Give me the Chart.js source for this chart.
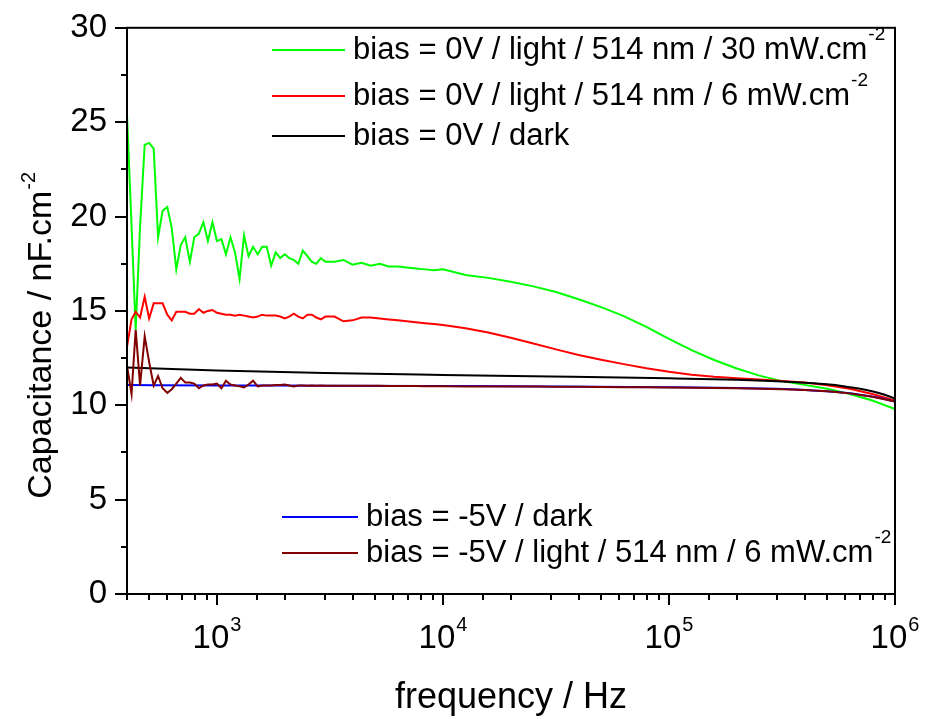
<!DOCTYPE html>
<html>
<head>
<meta charset="utf-8">
<title>Capacitance vs frequency</title>
<script src="https://cdn.jsdelivr.net/npm/chart.js@4.4.1/dist/chart.umd.min.js"></script>
<style>
  body { margin: 0; background: #fff; }
</style>
</head>
<body>
<canvas id="chart" width="925" height="719"></canvas>
<script>
// frequency grid (Hz) of the noisy measurements
const freq = [400, 419, 437, 457, 479, 501, 525, 549, 575, 603,
    631, 661, 692, 724, 759, 794, 832, 871, 912, 955,
    1000, 1047, 1096, 1148, 1202, 1259, 1318, 1380, 1445, 1514,
    1585, 1660, 1738, 1820, 1905, 1995, 2089, 2188, 2291, 2399,
    2512, 2630, 2754, 2884, 3020,
    3311, 3631, 3981, 4365, 4786, 5248, 5754, 6310, 6918, 7586, 8318, 9120, 10000,
    12589, 15849, 19953, 25119, 31623, 39811, 50119, 63096, 79433, 100000,
    125893, 158489, 199526, 251189, 316228, 398107, 501187, 630957, 794328, 1000000]

const light30 = [25.4, 19.5, 14.0, 19.5, 23.8, 23.9, 23.6, 18.9, 20.3, 20.5,
    19.4, 17.2, 18.5, 18.9, 17.6, 18.9, 19.1, 19.7, 18.7, 19.7,
    18.7, 18.8, 18.0, 18.9, 18.1, 16.7, 19.0, 17.9, 18.4, 18.0,
    18.4, 18.4, 17.4, 18.1, 17.8, 18.0, 17.8, 17.7, 17.5, 18.2,
    17.9, 17.6, 17.5, 17.8, 17.6,
    17.6, 17.7, 17.45, 17.55, 17.4, 17.5, 17.35, 17.35, 17.3, 17.25, 17.2, 17.15, 17.2,
    16.9, 16.75, 16.55, 16.3, 16.0, 15.62, 15.2, 14.72, 14.15, 13.52,
    12.92, 12.4, 11.95, 11.57, 11.28, 11.08, 10.88, 10.6, 10.25, 9.8]

const light6 = [13.1, 14.55, 14.95, 14.65, 15.75, 14.6, 15.4, 15.4, 15.4, 14.8,
    14.5, 14.95, 14.95, 14.95, 14.85, 14.85, 15.1, 14.9, 15.0, 15.05,
    14.9, 14.85, 14.8, 14.8, 14.75, 14.8, 14.75, 14.7, 14.65, 14.7,
    14.8, 14.75, 14.75, 14.75, 14.7, 14.6, 14.7, 14.85, 14.7, 14.6,
    14.8, 14.8, 14.65, 14.55, 14.7,
    14.7, 14.45, 14.5, 14.65, 14.65, 14.6, 14.55, 14.5, 14.45, 14.4, 14.35, 14.3, 14.25,
    14.08, 13.86, 13.58, 13.27, 12.96, 12.66, 12.41, 12.18, 11.96, 11.77,
    11.62, 11.51, 11.43, 11.36, 11.29, 11.2, 11.06, 10.88, 10.6, 10.25]

const rev5light6 = [12.1, 10.6, 14.0, 11.05, 13.65, 12.3, 11.05, 11.55, 10.9, 10.65,
    10.85, 11.15, 11.45, 11.2, 11.2, 11.15, 10.9, 11.05, 11.1, 11.1,
    11.15, 10.9, 11.3, 11.1, 11.05, 11.0, 10.95, 11.1, 11.3, 11.0,
    11.05, 11.05, 11.05, 11.08, 11.08, 11.1, 11.05, 11.0, 11.05, 11.05,
    11.04, 11.05, 11.04, 11.05, 11.04,
    11.04, 11.04, 11.03, 11.03, 11.03, 11.03, 11.02, 11.02, 11.02, 11.02, 11.01, 11.01, 11.01,
    11.0, 11.0, 10.99, 10.99, 10.98, 10.98, 10.97, 10.96, 10.95, 10.94,
    10.93, 10.92, 10.9, 10.88, 10.85, 10.81, 10.74, 10.63, 10.45, 10.2]

// the dark curves are smooth, fewer points are enough
const freqSmooth = [400, 1000, 3000, 10000, 30000, 100000, 200000, 300000, 400000, 500000, 600000, 700000, 800000, 900000, 1000000]
const dark0 = [12.0, 11.84, 11.71, 11.61, 11.53, 11.43, 11.35, 11.27, 11.19, 11.11, 11.0, 10.88, 10.73, 10.56, 10.35]
const rev5dark = [11.07, 11.05, 11.04, 11.02, 11.0, 10.96, 10.92, 10.87, 10.81, 10.74, 10.66, 10.56, 10.45, 10.33, 10.2]

const seriesLabels = ["bias = 0V / light / 514 nm / 30 mW.cm", "bias = 0V / light / 514 nm / 6 mW.cm", "bias = 0V / dark",
    "bias = -5V / dark", "bias = -5V / light / 514 nm / 6 mW.cm"]
const seriesSup = ["-2", "-2", "", "", "-2"]
const seriesColors = ["#00ff00", "#ff0000", "#000000", "#0000ff", "#800000"]

const xTickPowers = [3, 4, 5, 6]
const FONT = "'Liberation Sans', Arial, sans-serif"

function toPoints(xs, ys) {
    return xs.map((f, i) => ({ x: f, y: ys[i] }))
}

function makeSet(i, xs, ys, smooth, order) {
    return {
        label: seriesLabels[i],
        data: toPoints(xs, ys),
        borderColor: seriesColors[i],
        backgroundColor: seriesColors[i],
        borderWidth: 2,
        pointRadius: 0,
        fill: false,
        tension: smooth ? 0.4 : 0,
        cubicInterpolationMode: smooth ? 'monotone' : 'default',
        order: order
    }
}

// legend entries: [dataset index, line start x, line end x, text x, y]
const legendRows = [
    [0, 272, 345, 353, 50],
    [1, 272, 345, 353, 96],
    [2, 272, 345, 353, 136],
    [3, 282, 358, 366, 517],
    [4, 282, 358, 366, 553]
]

function drawSupText(ctx, x, y, main, sup, size, supSize, rise) {
    ctx.font = size + "px " + FONT
    ctx.fillText(main, x, y)
    let w = ctx.measureText(main).width
    if (sup) {
        ctx.font = supSize + "px " + FONT
        ctx.fillText(sup, x + w + 1, y - rise)
        w += ctx.measureText(sup).width + 1
    }
    return w
}

const decorations = {
    id: 'decorations',
    afterDraw(chart) {
        const ctx = chart.ctx
        const a = chart.chartArea
        const xs = chart.scales.x
        const ys = chart.scales.y

        ctx.save()
        ctx.strokeStyle = "#000"
        ctx.fillStyle = "#000"
        ctx.lineWidth = 2
        ctx.strokeRect(a.left, a.top, a.right - a.left, a.bottom - a.top)

        // y ticks, major every 5
        ctx.beginPath()
        for (let t of ys.ticks) {
            const py = Math.round(ys.getPixelForValue(t.value))
            const len = t.value % 5 === 0 ? 12 : 6
            ctx.moveTo(a.left - len, py)
            ctx.lineTo(a.left, py)
        }
        // x ticks, major at decades
        for (let t of xs.ticks) {
            const px = Math.round(xs.getPixelForValue(t.value))
            const e = Math.log10(t.value)
            const len = Math.abs(e - Math.round(e)) < 1e-6 ? 11 : 6
            ctx.moveTo(px, a.bottom)
            ctx.lineTo(px, a.bottom + len)
        }
        ctx.stroke()

        // x tick labels 10^n
        ctx.textAlign = "left"
        ctx.textBaseline = "alphabetic"
        for (let p of xTickPowers) {
            const px = xs.getPixelForValue(Math.pow(10, p))
            ctx.font = "33px " + FONT
            const w1 = ctx.measureText("10").width
            ctx.font = "20px " + FONT
            const w2 = ctx.measureText(String(p)).width
            drawSupText(ctx, px - (w1 + w2 + 1) / 2, 648, "10", String(p), 33, 20, 17)
        }

        // axis titles
        ctx.font = "36px " + FONT
        const tw = ctx.measureText("frequency / Hz").width
        ctx.fillText("frequency / Hz", (a.left + a.right) / 2 - tw / 2, 708)

        ctx.save()
        ctx.translate(51, (a.top + a.bottom) / 2 + 25)
        ctx.rotate(-Math.PI / 2)
        ctx.font = "34px " + FONT
        const yw = ctx.measureText("Capacitance / nF.cm").width
        ctx.font = "20px " + FONT
        const sw = ctx.measureText("-2").width
        drawSupText(ctx, -(yw + sw) / 2, 0, "Capacitance / nF.cm", "-2", 34, 20, 16)
        ctx.restore()

        // legends
        ctx.textBaseline = "middle"
        for (let row of legendRows) {
            const [i, x0, x1, tx, y] = row
            ctx.strokeStyle = seriesColors[i]
            ctx.lineWidth = 2
            ctx.beginPath()
            ctx.moveTo(x0, y)
            ctx.lineTo(x1, y)
            ctx.stroke()
            ctx.fillStyle = "#000"
            drawSupText(ctx, tx, y, seriesLabels[i], seriesSup[i], 31, 19, 15)
        }
        ctx.restore()
    }
}

new Chart(document.getElementById("chart"), {
    type: "line",
    data: {
        datasets: [
            makeSet(0, freq, light30, false, 5),
            makeSet(1, freq, light6, false, 4),
            makeSet(2, freqSmooth, dark0, true, 3),
            makeSet(3, freqSmooth, rev5dark, true, 2),
            makeSet(4, freq, rev5light6, false, 1)
        ]
    },
    options: {
        responsive: false,
        animation: false,
        devicePixelRatio: 1,
        layout: { padding: { top: 24, right: 30, left: 0, bottom: 0 } },
        plugins: {
            legend: { display: false },
            tooltip: { enabled: false }
        },
        scales: {
            x: {
                type: "logarithmic",
                min: 400,
                max: 1000000,
                grid: { display: false },
                border: { display: false },
                ticks: { autoSkip: false, maxRotation: 0, callback: () => "" },
                afterFit: s => { s.height = 125 }
            },
            y: {
                min: 0,
                max: 30,
                grid: { display: false, drawTicks: true, tickLength: 12 },
                border: { display: false },
                ticks: {
                    stepSize: 2.5,
                    autoSkip: false,
                    padding: 8,
                    color: "#000",
                    font: { family: FONT, size: 33 },
                    callback: v => v % 5 === 0 ? v : ""
                },
                afterFit: s => { s.width = 127 }
            }
        }
    },
    plugins: [decorations]
})
</script>
</body>
</html>
